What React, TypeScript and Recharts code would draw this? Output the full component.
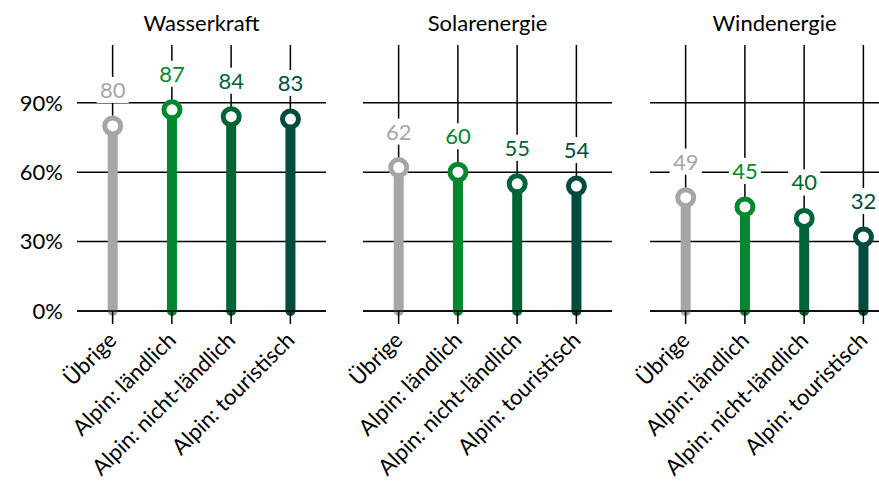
import React from 'react';
import { BarChart, Bar, XAxis, YAxis, CartesianGrid } from 'recharts';

const categories = ['Übrige', 'Alpin: ländlich', 'Alpin: nicht-ländlich', 'Alpin: touristisch'];
const wasserkraft = [80, 87, 84, 83];
const solarenergie = [62, 60, 55, 54];
const windenergie = [49, 45, 40, 32];
const panelTitles = ['Wasserkraft', 'Solarenergie', 'Windenergie'];
const yTicks = [0, 30, 60, 90];
const colors = ['#A6A6A6', '#00882F', '#006437', '#004B40'];

const FONT = 'Lato, "Open Sans", sans-serif';
const FS = 22;

const panels = [
  { title: panelTitles[0], values: wasserkraft },
  { title: panelTitles[1], values: solarenergie },
  { title: panelTitles[2], values: windenergie },
];

const PLOT_W = 249;
const PLOT_LEFTS = [77, 363, 650];

const Lollipop = (props: any) => {
  const { x, y, width, height, index, payload } = props;
  const cx = x + width / 2;
  const color = colors[index % colors.length];
  const base = y + height;
  const label = String(payload.value);
  const ly = y - 36;
  const bw = label.length * FS * 0.55 + 8;
  return (
    <g>
      <line x1={cx} y1={base} x2={cx} y2={y} stroke={color} strokeWidth={10} strokeLinecap="round" />
      <circle cx={cx} cy={y} r={8} fill="#fff" stroke={color} strokeWidth={5} />
      <rect x={cx - bw / 2} y={ly - 13} width={bw} height={26} fill="#fff" />
      <text x={cx} y={ly} dy="0.36em" textAnchor="middle" fontFamily={FONT} fontSize={FS} fill={color}>
        {label}
      </text>
    </g>
  );
};

const CategoryTick = (props: any) => {
  const { x, y, payload } = props;
  return (
    <g transform={`translate(${x},${y})`}>
      <text
        x={0}
        y={0}
        dy="0.35em"
        textAnchor="end"
        transform="rotate(-45)"
        fontFamily={FONT}
        fontSize={FS}
        fill="#000"
      >
        {payload.value}
      </text>
    </g>
  );
};

function Panel({ idx }: { idx: number }) {
  const p = panels[idx];
  const data = categories.map((name, i) => ({ name, value: p.values[i] }));
  const first = idx === 0;
  const marginLeft = first ? 0 : 50;
  const yw = first ? 77 : 0;
  const width = marginLeft + yw + PLOT_W + 10;
  const left = PLOT_LEFTS[idx] - marginLeft - yw;
  return (
    <div style={{ position: 'absolute', left, top: 0 }}>
      <BarChart
        width={width}
        height={486}
        data={data}
        margin={{ top: 45, right: 10, left: marginLeft, bottom: 0 }}
        barCategoryGap="40%"
      >
        <CartesianGrid stroke="#000" strokeWidth={1.5} syncWithTicks />
        <XAxis
          dataKey="name"
          interval={0}
          height={175}
          padding={{ left: 6, right: 6 }}
          tickSize={13}
          tickMargin={12}
          axisLine={{ stroke: '#000', strokeWidth: 1.5 }}
          tickLine={{ stroke: '#000', strokeWidth: 1.5 }}
          tick={CategoryTick}
        />
        <YAxis
          hide={!first}
          width={yw || 1}
          domain={[0, 115]}
          ticks={yTicks}
          tickFormatter={(v: number) => `${v}%`}
          axisLine={false}
          tickLine={false}
          tickMargin={8}
          tick={{ fill: '#000', fontSize: FS, fontFamily: FONT }}
        />
        <Bar dataKey="value" isAnimationActive={false} shape={Lollipop} />
      </BarChart>
      <div
        style={{
          position: 'absolute',
          left: PLOT_LEFTS[idx] - left - 50,
          width: PLOT_W + 100,
          top: 9,
          textAlign: 'center',
          fontFamily: FONT,
          fontSize: FS,
          lineHeight: '28px',
          color: '#000',
        }}
      >
        {p.title}
      </div>
    </div>
  );
}

export default function App() {
  return (
    <div
      style={{
        position: 'absolute',
        left: 0,
        top: 0,
        width: 879,
        height: 486,
        overflow: 'hidden',
        background: '#fff',
      }}
    >
      <Panel idx={0} />
      <Panel idx={1} />
      <Panel idx={2} />
    </div>
  );
}
